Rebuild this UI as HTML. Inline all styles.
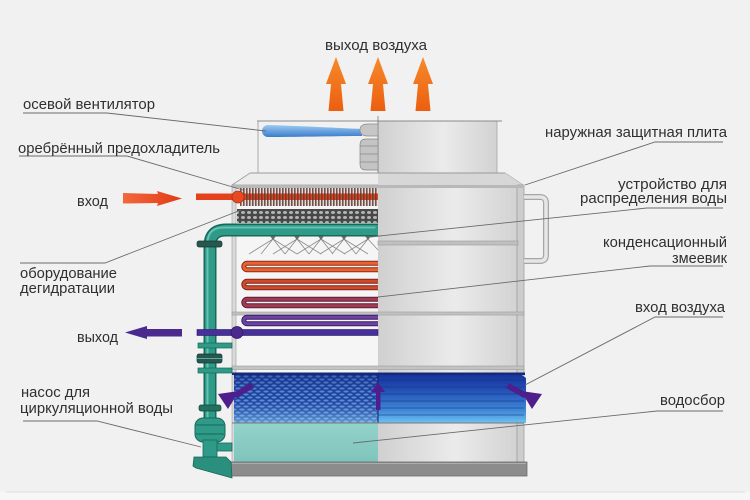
<!DOCTYPE html>
<html><head><meta charset="utf-8">
<style>
html,body{margin:0;padding:0;background:#f1f1f1;}
svg{display:block}
text{font-family:"Liberation Sans","DejaVu Sans",sans-serif;font-size:15px;fill:#2f2f2f;}
</style></head><body>
<svg width="750" height="500" viewBox="0 0 750 500" xmlns="http://www.w3.org/2000/svg">
<defs>
 <linearGradient id="metal" x1="0" x2="1" y1="0" y2="0">
  <stop offset="0" stop-color="#d0d0d0"/>
  <stop offset="0.55" stop-color="#ebebeb"/>
  <stop offset="1" stop-color="#d2d2d2"/>
 </linearGradient>
 <linearGradient id="orng" x1="0" x2="0" y1="0" y2="1">
  <stop offset="0" stop-color="#f68a2c"/>
  <stop offset="1" stop-color="#ec5e10"/>
 </linearGradient>
 <linearGradient id="redg" x1="0" x2="1" y1="0" y2="0">
  <stop offset="0" stop-color="#f2683a"/>
  <stop offset="1" stop-color="#e23a18"/>
 </linearGradient>
 <linearGradient id="blade" x1="0" x2="0" y1="0" y2="1">
  <stop offset="0" stop-color="#9ccaf2"/>
  <stop offset="1" stop-color="#3a7ccb"/>
 </linearGradient>
 <linearGradient id="blueR" x1="0" x2="0" y1="0" y2="1">
  <stop offset="0" stop-color="#15309a"/>
  <stop offset="0.35" stop-color="#2452b6"/>
  <stop offset="0.75" stop-color="#3f88d8"/>
  <stop offset="1" stop-color="#6ec2f2"/>
 </linearGradient>
 <linearGradient id="blueOv" x1="0" x2="0" y1="0" y2="1">
  <stop offset="0" stop-color="#0a1a70" stop-opacity="0.45"/>
  <stop offset="0.5" stop-color="#3a70c8" stop-opacity="0.1"/>
  <stop offset="1" stop-color="#a0e0ff" stop-opacity="0.55"/>
 </linearGradient>
 <linearGradient id="teal" x1="0" x2="0" y1="0" y2="1">
  <stop offset="0" stop-color="#93d3cb"/>
  <stop offset="1" stop-color="#7fc4bc"/>
 </linearGradient>
 <pattern id="fins" width="3" height="20" patternUnits="userSpaceOnUse">
  <rect x="0" y="0" width="1.6" height="20" fill="#5a3a32" fill-opacity="0.85"/>
 </pattern>
 <pattern id="mesh" width="6" height="5" patternUnits="userSpaceOnUse">
  <rect width="6" height="5" fill="#484848"/>
  <ellipse cx="3" cy="2.5" rx="2" ry="1.5" fill="#b5b5b5"/>
 </pattern>
 <pattern id="hex" width="8" height="6" patternUnits="userSpaceOnUse">
  <rect width="8" height="6" fill="#1c3c96"/>
  <ellipse cx="2" cy="1.5" rx="2.7" ry="1.1" fill="#5d90da"/>
  <ellipse cx="6" cy="4.5" rx="2.7" ry="1.1" fill="#5d90da"/>
  <ellipse cx="10" cy="1.5" rx="2.7" ry="1.1" fill="#5d90da"/>
  <ellipse cx="-2" cy="4.5" rx="2.7" ry="1.1" fill="#5d90da"/>
 </pattern>
</defs>

<!-- background bottom strip -->
<rect x="0" y="492" width="750" height="8" fill="#f7f7f7"/>
<line x1="6" y1="492" x2="745" y2="492" stroke="#dedede" stroke-width="1"/>

<!-- top air outlet arrows -->
<g fill="url(#orng)">
 <polygon points="336,57 346,84 341,84 343.5,111 328.5,111 331,84 326,84"/>
 <polygon points="378,57 388,84 383,84 385.5,111 370.5,111 373,84 368,84"/>
 <polygon points="423,57 433,84 428,84 430.5,111 415.5,111 418,84 413,84"/>
</g>

<!-- fan housing -->
<rect x="378" y="121" width="119" height="52" fill="url(#metal)" stroke="#a5a5a5" stroke-width="0.8"/>
<line x1="257" y1="121" x2="502" y2="121" stroke="#8a8a8a" stroke-width="1"/>
<line x1="258" y1="121" x2="258" y2="173" stroke="#9a9a9a" stroke-width="0.8"/>
<line x1="378" y1="116" x2="378" y2="185" stroke="#7a7a7a" stroke-width="0.8"/>
<!-- fan blade -->
<path d="M268,125 C300,126 340,128 362,129 L362,136 C340,136 300,137 268,137 A6,6 0 0 1 268,125 Z" fill="url(#blade)"/>
<path d="M378,124 H368 Q360,124 360,130 Q360,136 368,136 H378 Z" fill="#c6c6c6" stroke="#8a8a8a" stroke-width="0.7"/>
<path d="M378,139 H366 Q360,139 360,145 V164 Q360,170 366,170 H378 Z" fill="#c4c4c4" stroke="#858585" stroke-width="0.7"/>
<g stroke="#8a8a8a" stroke-width="0.7">
 <line x1="360" y1="146" x2="378" y2="146"/>
 <line x1="360" y1="154" x2="378" y2="154"/>
 <line x1="360" y1="162" x2="378" y2="162"/>
</g>

<!-- top trapezoid -->
<polygon points="250,173 505,173 523,185 232,185" fill="#ececec" stroke="#999" stroke-width="0.8"/>
<polygon points="378,173 505,173 523,185 378,185" fill="#d7d7d7"/>
<line x1="250" y1="173" x2="505" y2="173" stroke="#9a9a9a" stroke-width="1"/>

<!-- body -->
<rect x="236" y="185" width="142" height="277" fill="#f5f5f5"/>
<rect x="378" y="185" width="140" height="277" fill="url(#metal)"/>
<rect x="232" y="185" width="4" height="277" fill="#dadada" stroke="#9c9c9c" stroke-width="0.6"/>
<rect x="517" y="185" width="7" height="277" fill="#cdcdcd" stroke="#979797" stroke-width="0.7"/>
<rect x="232" y="185" width="292" height="3" fill="#b8b8b8"/>
<!-- handle -->
<path d="M524,197 H540 Q546,197 546,203 V255 Q546,261 540,261 H524" fill="none" stroke="#a6a6a6" stroke-width="6"/>
<path d="M524,197 H540 Q546,197 546,203 V255 Q546,261 540,261 H524" fill="none" stroke="#e6e6e6" stroke-width="3.5"/>

<!-- dividers -->
<rect x="378" y="241" width="140" height="4" fill="#c0c0c0" stroke="#9a9a9a" stroke-width="0.6"/>
<rect x="232" y="312" width="292" height="3" fill="#c2c2c2" stroke="#9a9a9a" stroke-width="0.6"/>
<rect x="232" y="366" width="292" height="3.5" fill="#c2c2c2" stroke="#9a9a9a" stroke-width="0.6"/>

<!-- air inlet band -->
<rect x="234" y="373" width="144" height="50" fill="url(#hex)"/>
<rect x="234" y="373" width="144" height="50" fill="url(#blueOv)"/>
<polygon points="378,373 519,373 526,378 526,423 378,423" fill="url(#blueR)"/>
<g stroke="#13307e" stroke-opacity="0.55" stroke-width="1">
 <line x1="378" y1="380" x2="524" y2="380"/>
 <line x1="378" y1="387" x2="524" y2="387"/>
 <line x1="378" y1="394" x2="524" y2="394"/>
 <line x1="378" y1="401" x2="524" y2="401"/>
 <line x1="378" y1="408" x2="524" y2="408"/>
 <line x1="378" y1="415" x2="524" y2="415"/>
</g>
<rect x="232" y="372.5" width="293" height="2.5" fill="#132a7c"/>
<line x1="378" y1="373" x2="378" y2="423" stroke="#0e2270" stroke-width="1"/>

<!-- basin -->
<rect x="234" y="423" width="144" height="39" fill="url(#teal)"/>
<line x1="232" y1="423" x2="524" y2="423" stroke="#7a7a7a" stroke-width="1"/>
<!-- base -->
<rect x="231" y="462" width="296" height="14" fill="#8c8c8c" stroke="#6c6c6c" stroke-width="0.8"/>
<line x1="232" y1="463.5" x2="526" y2="463.5" stroke="#adadad" stroke-width="1"/>

<!-- preheater -->
<rect x="240" y="188" width="138" height="18" fill="#e6dcd8"/>
<rect x="196" y="193.5" width="182" height="6.5" fill="#e4421c"/>
<rect x="240" y="188" width="138" height="18" fill="url(#fins)"/>
<circle cx="238" cy="197" r="6" fill="#e84a20" stroke="#a8301a" stroke-width="0.8"/>

<!-- degassing mesh -->
<rect x="237" y="209" width="141" height="14" fill="url(#mesh)"/>

<!-- teal pipes -->
<path d="M210,454 L210,246 Q210,230 226,230 L378,230" fill="none" stroke="#17695b" stroke-width="13"/>
<path d="M210,454 L210,246 Q210,230 226,230 L378,230" fill="none" stroke="#2e9a87" stroke-width="10"/>
<path d="M210,454 L210,246 Q210,230 226,230 L378,230" fill="none" stroke="#62c3b1" stroke-width="2" transform="translate(-2.5,-2.5)"/>
<rect x="197" y="241" width="25" height="6" rx="2" fill="#27574f" stroke="#143c36" stroke-width="0.7"/>
<rect x="198" y="343" width="34" height="5" fill="#2e9a87" stroke="#17695b" stroke-width="0.7"/>
<rect x="197" y="354" width="25" height="9" rx="2" fill="#27574f" stroke="#143c36" stroke-width="0.7"/>
<line x1="197" y1="358.5" x2="222" y2="358.5" stroke="#5aa" stroke-width="1"/>
<rect x="198" y="368" width="34" height="5" fill="#2e9a87" stroke="#17695b" stroke-width="0.7"/>

<!-- pump -->
<rect x="199" y="405" width="22" height="6" rx="2" fill="#23705f" stroke="#14463c" stroke-width="0.7"/>
<rect x="195" y="418" width="30" height="24" rx="8" fill="#2e9a87" stroke="#17695b" stroke-width="1"/>
<line x1="196" y1="425" x2="224" y2="425" stroke="#17695b" stroke-width="1"/>
<line x1="196" y1="434" x2="224" y2="434" stroke="#17695b" stroke-width="1"/>
<rect x="216" y="443" width="16" height="8" fill="#2e9a87" stroke="#17695b" stroke-width="0.8"/>
<rect x="203" y="440" width="14" height="17" fill="#2e9a87" stroke="#17695b" stroke-width="0.8"/>
<polygon points="194,457 226,457 231,462 232,478 196,468 193,466" fill="#2a8f7d" stroke="#17695b" stroke-width="0.8"/>

<!-- nozzles -->
<g stroke="#8c8c8c" stroke-width="0.8" fill="none">
 <path d="M273,239 L249,254 M273,239 L261,254 M273,239 L285,254 M273,239 L297,254"/>
 <path d="M297,239 L273,254 M297,239 L285,254 M297,239 L309,254 M297,239 L321,254"/>
 <path d="M321,239 L297,254 M321,239 L309,254 M321,239 L333,254 M321,239 L345,254"/>
 <path d="M344,239 L320,254 M344,239 L332,254 M344,239 L356,254 M344,239 L368,254"/>
 <path d="M368,239 L344,254 M368,239 L356,254 M368,239 L378,250"/>
</g>
<g fill="#666">
 <polygon points="270,236 276,236 273,240"/>
 <polygon points="294,236 300,236 297,240"/>
 <polygon points="318,236 324,236 321,240"/>
 <polygon points="341,236 347,236 344,240"/>
 <polygon points="365,236 371,236 368,240"/>
</g>

<!-- coils -->
<g fill="none" stroke-linecap="butt">
 <path d="M378,263.3 H247 A3.2,3.2 0 0 0 247,269.7 H378" stroke="#8a2a14" stroke-width="5"/>
 <path d="M378,263.3 H247 A3.2,3.2 0 0 0 247,269.7 H378" stroke="#ea6232" stroke-width="3"/>
 <path d="M378,281.3 H247 A3.2,3.2 0 0 0 247,287.7 H378" stroke="#7e2418" stroke-width="5"/>
 <path d="M378,281.3 H247 A3.2,3.2 0 0 0 247,287.7 H378" stroke="#cf4a2c" stroke-width="3"/>
 <path d="M378,299.3 H247 A3.2,3.2 0 0 0 247,305.7 H378" stroke="#5e1e3a" stroke-width="5"/>
 <path d="M378,299.3 H247 A3.2,3.2 0 0 0 247,305.7 H378" stroke="#a23a52" stroke-width="3"/>
 <path d="M378,317.3 H247 A3.2,3.2 0 0 0 247,323.7 H378" stroke="#3a1e6a" stroke-width="5"/>
 <path d="M378,317.3 H247 A3.2,3.2 0 0 0 247,323.7 H378" stroke="#6e42a0" stroke-width="3"/>
</g>
<!-- outlet purple -->
<rect x="197" y="329.5" width="181" height="6" fill="#47309a" stroke="#2a1a6a" stroke-width="0.6"/>
<circle cx="237" cy="332.5" r="6" fill="#4a2a8e" stroke="#2a1a60" stroke-width="0.8"/>

<!-- inlet / outlet arrows -->
<polygon points="123,193 158,194 157,191 182,198.5 157,206 158,203 123,203.5" fill="url(#redg)"/>
<polygon points="125,332.5 147,326 147,329 182,329 182,336.5 147,336.5 147,339" fill="#4b2a8f"/>

<!-- air inlet arrows -->
<g fill="#4e1f8c">
 <polygon points="251,383 254,388 236,398 233,393"/>
 <polygon points="218,394 239,391 228,409"/>
 <polygon points="509,383 506,388 524,398 527,393"/>
 <polygon points="542,394 521,391 532,409"/>
 <rect x="376" y="390" width="4.5" height="20"/>
 <polygon points="371,392 385,392 378,382"/>
</g>

<!-- leader lines -->
<g stroke="#6a6a6a" stroke-width="0.9" fill="none">
 <polyline points="23,113 107,113 266,131"/>
 <polyline points="19,156 127,156 243,190"/>
 <polyline points="20,263 105,263 241,210"/>
 <polyline points="23,421 97,421 201,447"/>
 <polyline points="723,142 655,142 525,185"/>
 <polyline points="723,208 647,208 370,237"/>
 <polyline points="723,266 650,266 378,297"/>
 <polyline points="723,317 655,317 525,385"/>
 <polyline points="723,411 657,411 353,443"/>
</g>

<!-- labels -->
<text x="325" y="50" textLength="102" lengthAdjust="spacingAndGlyphs">выход воздуха</text>
<text x="23" y="109" textLength="132" lengthAdjust="spacingAndGlyphs">осевой вентилятор</text>
<text x="18" y="153" textLength="202" lengthAdjust="spacingAndGlyphs">оребрённый предохладитель</text>
<text x="77" y="206" textLength="31" lengthAdjust="spacingAndGlyphs">вход</text>
<text x="20" y="278" textLength="97" lengthAdjust="spacingAndGlyphs">оборудование</text>
<text x="20" y="293" textLength="95" lengthAdjust="spacingAndGlyphs">дегидратации</text>
<text x="77" y="342" textLength="41" lengthAdjust="spacingAndGlyphs">выход</text>
<text x="21" y="397" textLength="69" lengthAdjust="spacingAndGlyphs">насос для</text>
<text x="20" y="413" textLength="153" lengthAdjust="spacingAndGlyphs">циркуляционной воды</text>

<text x="545" y="137" textLength="182" lengthAdjust="spacingAndGlyphs">наружная защитная плита</text>
<text x="618" y="189" textLength="109" lengthAdjust="spacingAndGlyphs">устройство для</text>
<text x="580" y="203" textLength="147" lengthAdjust="spacingAndGlyphs">распределения воды</text>
<text x="603" y="247" textLength="124" lengthAdjust="spacingAndGlyphs">конденсационный</text>
<text x="672" y="263" textLength="55" lengthAdjust="spacingAndGlyphs">змеевик</text>
<text x="635" y="312" textLength="90" lengthAdjust="spacingAndGlyphs">вход воздуха</text>
<text x="660" y="405" textLength="65" lengthAdjust="spacingAndGlyphs">водосбор</text>
</svg>
</body></html>
